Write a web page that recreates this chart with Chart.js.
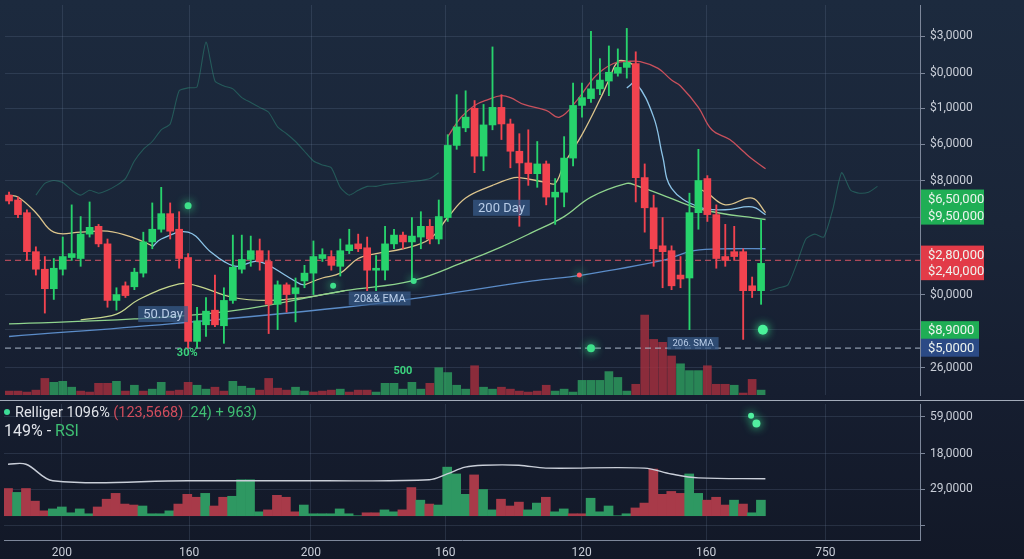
<!DOCTYPE html>
<html lang="en">
<head>
<meta charset="utf-8">
<title>Price chart</title>
<script src="https://cdn.jsdelivr.net/npm/chart.js@4.4.1/dist/chart.umd.min.js"></script>
<style>
  html, body { margin: 0; padding: 0; }
  body {
    width: 1024px; height: 559px; overflow: hidden; position: relative;
    background: linear-gradient(180deg, #1c2a3e 0%, #1a2538 40%, #161e30 70%, #121827 100%);
    font-family: Roboto, "Liberation Sans", Arial, sans-serif;
  }
  canvas { position: absolute; left: 0; }
  #priceChart { top: 0; }
  #rsiChart { top: 400px; }
  #divider { position: absolute; left: 0; top: 400px; width: 1024px; height: 1px; background: #a3abba; }
  .legend { position: absolute; left: 4px; white-space: nowrap; color: #e1e4ea; }
  #legend1 { top: 404px; font-size: 14.5px; }
  #legend2 { top: 421px; font-size: 16px; }
  .up { color: #3fbf73; }
  .down { color: #d24d5d; }
  .dot { display: inline-block; width: 6px; height: 6px; border-radius: 50%; background: #3ddc97;
         margin-right: 5px; position: relative; top: -2px; }
</style>
</head>
<body>
<canvas id="priceChart" width="1024" height="400"></canvas>
<canvas id="rsiChart" width="1024" height="159"></canvas>
<div id="divider"></div>
<div class="legend" id="legend1"><span class="dot"></span>Relliger 1096% <span class="down">(123,5668)</span>&nbsp; <span class="up">24) + 963)</span></div>
<div class="legend" id="legend2">149% - <span class="up">RSI</span></div>
<script>
// candles, one per bar index (price axis units)
const opens = [205,200,187,147,129,109,129,141,140,165, 173,155,97,112,111,125,157,170,186,170,
  141,55,72,87,71,97,129,139,148,137, 93,113,104,117,125,140,142,132,148,155,
  151,128,128,155,164,157,162,173,160,182, 256,274,294,245,277,295,278,250,238,227,
  237,203,208,243,297,304,314,322,330,336, 340,223,192,153,148,123,120,187,222,185,
  142,147,147,112,107];
const highs = [208,203,190,152,142,140,162,195,183,198, 175,160,110,116,130,167,197,213,197,188,
  145,90,100,123,110,164,164,163,160,148, 117,115,120,133,158,150,148,160,170,165,
  162,143,173,170,167,182,188,180,200,267, 308,312,302,298,357,308,283,268,272,260,
  240,222,265,320,320,373,345,358,355,376, 352,237,205,182,153,142,207,252,225,195,
  175,173,150,121,180];
const lows = [196,182,138,123,84,98,123,138,132,162, 152,90,87,100,108,121,150,167,160,130,
  48,48,60,70,53,94,125,132,128,63, 67,85,75,110,103,137,128,122,145,147,
  107,107,118,150,150,118,150,155,155,178, 252,270,228,230,272,262,233,173,215,213,
  195,175,193,235,285,300,308,307,327,325, 198,167,132,110,108,110,67,170,178,130,
  132,138,57,100,93];
const closes = [199,185,147,129,109,130,142,145,165,172, 155,97,103,102,126,157,170,186,168,140,
  55,76,86,72,97,131,139,148,137,93, 113,103,110,125,142,144,133,148,154,150,
  128,130,155,164,157,163,173,160,183,256, 275,285,245,277,295,278,250,238,227,237,
  203,208,243,297,305,314,323,331,336,341, 223,192,150,147,112,119,187,220,185,140,
  138,142,107,107,135];

// volume under the candles (G = up, R = down)
const volumes = [4,4,3,5,17,13,14,8,4,3, 12,12,14,4,10,4,6,13,4,5, 13,10,6,8,4,14,9,7,5,17,
  7,5,8,4,3,4,5,6,3,5, 5,3,12,12,6,13,6,12,28,23, 10,6,30,8,6,8,6,4,3,4,
  10,4,6,3,15,15,15,24,18,4, 11,82,57,54,40,32,25,25,30,11, 11,10,2,16,5];
const volumeSide = "RRRRRGGGRR" + "RRGRGRGGRR" + "RGGRRGGGRR" + "RRGGRRRGRR" + "RGGGGGGRGG" +
  "GGRGGRRRRR" + "RGGGGGGGGG" + "RRRRRGGGRR" + "RGRRG";

// moving averages: bar index / price
const redLineX = [49, 50.5, 52, 53.5, 55, 56, 57.5, 60, 61.5, 63.5, 65.5, 67.5, 69, 70.5, 72.5, 74, 75, 77, 78.5, 80.5, 82, 83, 84.5];
const redLineY = [265, 285, 297, 303, 307, 305, 298, 292, 285, 303, 327, 340, 342, 342, 335, 323, 317, 295, 272, 262, 250, 242, 232];
const tanLineX = [0, 1, 3, 5, 8, 11, 14, 16, 25, 33, 35, 37, 39, 41, 44, 47, 49, 51, 54, 56, 57, 60, 61, 62, 64, 66, 67, 68, 69, 70, 74, 77, 78, 80, 83, 84.5];
const tanLineY = [205, 203, 187, 167, 167, 168, 161, 153, null, 113, 120, 125, 140, 145, 150, 160, 182, 202, 215, 222, 223, 218, 217, 237, 267, 303, 323, 342, 342, 337, null, 212, 207, 195, 202, 187];
const blueLineX = [16, 17, 20, 22.5, 24, 25.5, 27.5, 29, 31, 32.5, 33, 50, 69, 70, 72, 73, 74, 77, 80, 83, 84.5];
const blueLineY = [152, 160, 167, 147, 137, 132, 137, 133, 122, 114, 113, null, 315, 320, 285, 245, 212, 193, 190, 193, 185];
const greenLineX = [0, 14, 25.5, 37.5, 45, 51, 55, 58.5, 62, 65, 69, 70, 73, 77.5, 84.5];
const greenLineY = [73, 78, 87, 107, 117, 137, 152, 167, 183, 203, 217, 215, 205, 190, 180];
const humpLineX = [8, 12, 14.5, 19, 21, 25, 29, 33, 37.5];
const humpLineY = [77, 83, 98, 114, 112, 100, 97, 100, 107];
const steelLineX = [0, 18, 37.5, 47.5, 58.5, 64, 73, 76.5, 80.5, 84.5];
const steelLineY = [60, 73, 90, 102, 117, 123, 138, 148, 150, 150];

// faint background traces
const ghostLeftX = [3,4,5,6,7,8,9,10,11,12,13,14,15,16,17,18,19,20,21,22,23,24,25,26,27,28,29,30,31,32,33,34,35,36,37,38,39,40,41,42,43,44,45,46,47,48];
const ghostLeftY = [205,217,220,218,210,205,210,207,210,215,222,240,252,260,272,278,312,315,316,362,322,317,314,305,300,295,290,275,268,260,250,240,236,233,213,205,210,214,214,216,217,218,219,220,222,228];
const ghostRightX = [85,86,87,88,89,90,91,92,93,94,95,96,97];
const ghostRightY = [107,110,113,135,160,165,162,190,228,210,207,208,214];

// reference levels
const refLevels = [138, 48];

// glow dots
const glowX = [84.2, 65, 20, 36.2, 45.2, 63.7];
const glowY = [67, 48, 194, 112, 117, 123];

// lower pane
const rsiVolumes = [28,24,28,15,5,7,9,3,7,2, 9,17,23,12,11,10,2,2,5,12, 22,19,23,10,19,20,37,37,4,6,
  21,19,4,11,2,2,2,7,2,0, 3,3,6,4,6,29,16,12,11,50, 43,22,42,27,6,17,10,14,6,13,
  19,4,7,2,2,18,4,10,0,2, 8,13,48,22,25,23,43,23,16,19, 11,16,12,3,16];
const rsiSide = "RGRRRGGGGG" + "RRRRRGGGGR" + "RRGRRGGGGR" + "RRRGGGGGGG" + "RRGGRRGRGG" +
  "GGRGGRRRGG" + "RGGRRGGGGG" + "RRRRRRGGRR" + "RGRGG";
const rsiLineX = [0, 2, 5, 20, 35, 47, 49, 51, 53, 57, 60, 71, 74, 77, 84.5];
const rsiLineY = [53, 53, 36, 36, 36, 37, 43, 50, 52, 52, 49, 49, 43, 39, 38];
const rsiGlowX = [82.9, 83.5];
const rsiGlowY = [103, 95];

// axes
const xGridAt = [6, 20.2, 33.8, 48.8, 64, 77.9, 91.2];
const xTickLabels = ["200", "160", "200", "160", "120", "160", "750"];
const priceTicks = [368, 330, 294, 257, 220, 182, 144, 103, 67, 28];
const priceTickLabels = ["$3,0000", "$0,0000", "$1,0000", "$6,0000", "$8,0000", "", "", "$0,0000", "", "26,0000"];
const rsiTicks = [102, 64, 27, -10];
const rsiTickLabels = ["59,0000", "18,0000", "29,0000", ""];

// price badges on the right axis
const badgeValues = [201.5, 184, 144, 127, 66.5, 48.5];
const badgeLabels = ["$6,50,000", "$9,50,000", "$2,80,000", "$2,40,000", "$8,9000", "$5,0000"];
const badgeKinds = ["up", "up", "down", "down", "up", "base"];

// chart notes
const noteText = ["50.Day", "200 Day", "20&& EMA", "206. SMA"];
const noteX = [17.2, 55, 41.4, 76.4];
const noteY = [83, 192, 99, 53];
const markText = ["30%", "500"];
const markX = [19.9, 44];
const markY = [43, 24];

const X_MIN = -0.45, X_MAX = 101.75;
const GREEN = "#27d36c", RED = "#f2434f";
const GRID = "rgba(120,140,170,0.2)";
const AXIS = "#7d879a";
const GHOST = "rgba(52,170,140,0.38)";
const FONT = "Roboto, 'Liberation Sans', Arial, sans-serif";

Chart.defaults.font.family = FONT;

const pts = (xs, ys) => xs.map((x, i) => ({ x: x, y: ys[i] }));
const candleColor = ctx => closes[ctx.dataIndex] >= opens[ctx.dataIndex] ? GREEN : RED;

function maLine(xs, ys, color, width) {
  return {
    type: "line", data: pts(xs, ys), borderColor: color, borderWidth: width || 1.3,
    pointRadius: 0, tension: 0.4, spanGaps: false, order: 3
  };
}

const glowPlugin = {
  id: "glow",
  beforeDatasetDraw(chart, args) {
    const ds = chart.data.datasets[args.index];
    if (!ds.glow) return;
    chart.ctx.save();
    chart.ctx.shadowColor = ds.glow;
    chart.ctx.shadowBlur = 10;
  },
  afterDatasetDraw(chart, args) {
    if (chart.data.datasets[args.index].glow) chart.ctx.restore();
  }
};

const notesPlugin = {
  id: "notes",
  afterDatasetsDraw(chart) {
    const { ctx, scales: { x, y } } = chart;
    ctx.save();
    ctx.textAlign = "center";
    ctx.textBaseline = "middle";
    const sizes = [13, 13, 11, 9.5];
    noteText.forEach((t, k) => {
      const cx = x.getPixelForValue(noteX[k]);
      const cy = y.getPixelForValue(noteY[k]);
      ctx.font = sizes[k] + "px " + FONT;
      const w = ctx.measureText(t).width + 10;
      const h = sizes[k] + 3;
      ctx.fillStyle = "rgba(55,92,138,0.72)";
      ctx.fillRect(cx - w / 2, cy - h / 2, w, h);
      ctx.fillStyle = "#b9cde8";
      ctx.fillText(t, cx, cy + 0.5);
    });
    ctx.font = "bold 11px " + FONT;
    ctx.fillStyle = "#3bd27d";
    markText.forEach((t, k) => {
      ctx.fillText(t, x.getPixelForValue(markX[k]), y.getPixelForValue(markY[k]));
    });
    ctx.restore();
  },
  afterDraw(chart) {
    const { ctx, chartArea, scales: { y } } = chart;
    const fills = { up: "#1fae55", down: "#e23b48", base: "#2b4a85" };
    ctx.save();
    ctx.font = "13px " + FONT;
    ctx.textBaseline = "middle";
    ctx.textAlign = "left";
    badgeLabels.forEach((t, k) => {
      const cy = y.getPixelForValue(badgeValues[k]);
      const w = k < 4 ? 63 : 58;
      ctx.fillStyle = fills[badgeKinds[k]];
      ctx.fillRect(chartArea.right + 1, cy - 9, w, 18);
      ctx.fillStyle = "#eef4ef";
      ctx.fillText(t, chartArea.right + 8, cy + 1);
    });
    ctx.restore();
  }
};

new Chart(document.getElementById("priceChart"), {
  type: "bar",
  data: {
    datasets: [
      {
        type: "line", glow: "#3dff9a", showLine: false, data: pts(glowX, glowY),
        pointRadius: [5, 4, 3.5, 3, 3, 2.5],
        pointBackgroundColor: ["#4af29a", "#3ee08a", "#3ee08a", "#3ee08a", "#3ee08a", "#ff5a66"],
        pointBorderWidth: 0, order: 0
      },
      {
        type: "bar", data: opens.map((o, i) => ({ x: i, y: [o, closes[i]] })),
        backgroundColor: candleColor, barThickness: 7, grouped: false, order: 1
      },
      {
        type: "bar", data: lows.map((l, i) => ({ x: i, y: [l, highs[i]] })),
        backgroundColor: candleColor, barThickness: 1.2, grouped: false, order: 2
      },
      maLine(redLineX, redLineY, "#c9505c"),
      maLine(tanLineX, tanLineY, "#dcc48c"),
      maLine(blueLineX, blueLineY, "#8cc4e8"),
      maLine(greenLineX, greenLineY, "#8fd48e"),
      maLine(humpLineX, humpLineY, "#c5d68e", 1.2),
      maLine(steelLineX, steelLineY, "#5b8cc8"),
      Object.assign(maLine(ghostLeftX, ghostLeftY, GHOST, 1.1), { order: 9, tension: 0.2 }),
      Object.assign(maLine(ghostRightX, ghostRightY, GHOST, 1.1), { order: 9, tension: 0.2 }),
      ...refLevels.map((lvl, k) => ({
        type: "line", data: [{ x: X_MIN, y: lvl }, { x: X_MAX, y: lvl }],
        borderColor: k === 0 ? "rgba(200,80,95,0.85)" : "rgba(170,182,200,0.8)",
        borderWidth: 1.2, borderDash: [6, 4], pointRadius: 0, order: 8
      })),
      {
        type: "bar", yAxisID: "yVol", data: volumes.map((v, i) => ({ x: i, y: v })),
        backgroundColor: ctx => volumeSide[ctx.dataIndex] === "G" ? "rgba(46,160,96,0.8)" : "rgba(165,48,62,0.82)",
        barThickness: 8, grouped: false, order: 10
      }
    ]
  },
  options: {
    responsive: false,
    animation: false,
    events: [],
    layout: { padding: 0 },
    plugins: { legend: { display: false }, tooltip: { enabled: false } },
    scales: {
      x: {
        type: "linear", min: X_MIN, max: X_MAX, offset: false,
        afterBuildTicks: s => { s.ticks = xGridAt.map(v => ({ value: v })); },
        afterFit: s => { s.height = 0; s.paddingLeft = 0; s.paddingRight = 0; },
        ticks: { display: false },
        grid: { color: GRID, drawTicks: false, offset: false },
        border: { display: false }
      },
      y: {
        position: "right", min: 0, max: 400,
        afterBuildTicks: s => { s.ticks = priceTicks.map(v => ({ value: v })); },
        afterFit: s => { s.width = 104; s.paddingTop = 0; s.paddingBottom = 0; },
        ticks: { color: "#c9ced8", font: { size: 12 }, padding: 5, callback: (v, i) => priceTickLabels[i] },
        grid: { color: GRID, tickLength: 5, tickColor: AXIS },
        border: { display: true, color: AXIS }
      },
      yVol: { display: false, min: 0, max: 400 }
    }
  },
  plugins: [glowPlugin, notesPlugin]
});

new Chart(document.getElementById("rsiChart"), {
  type: "bar",
  data: {
    datasets: [
      {
        type: "line", glow: "#3dff9a", showLine: false, data: pts(rsiGlowX, rsiGlowY),
        pointRadius: [3, 4], pointBackgroundColor: "#52f0a0", pointBorderWidth: 0, order: 0
      },
      {
        type: "line", data: pts(rsiLineX, rsiLineY), borderColor: "#c9ced8", borderWidth: 1.4,
        pointRadius: 0, tension: 0.35, order: 1
      },
      {
        type: "bar", data: rsiVolumes.map((v, i) => ({ x: i, y: v })),
        backgroundColor: ctx => rsiSide[ctx.dataIndex] === "G" ? "#2e9862" : "#a83a49",
        barThickness: 9, grouped: false, order: 2
      }
    ]
  },
  options: {
    responsive: false,
    animation: false,
    events: [],
    layout: { padding: 0 },
    plugins: { legend: { display: false }, tooltip: { enabled: false } },
    scales: {
      x: {
        type: "linear", min: X_MIN, max: X_MAX, offset: false,
        afterBuildTicks: s => { s.ticks = xGridAt.map(v => ({ value: v })); },
        afterFit: s => { s.height = 19; s.paddingLeft = 0; s.paddingRight = 0; },
        ticks: { color: "#c9ced8", font: { size: 12 }, padding: 6, autoSkip: false, maxRotation: 0,
                 callback: (v, i) => xTickLabels[i] },
        grid: { color: GRID, drawTicks: false, offset: false },
        border: { display: true, color: AXIS }
      },
      y: {
        position: "right", min: -25, max: 115,
        afterBuildTicks: s => { s.ticks = rsiTicks.map(v => ({ value: v })); },
        afterFit: s => { s.width = 104; s.paddingTop = 0; s.paddingBottom = 0; },
        ticks: { color: "#c9ced8", font: { size: 12 }, padding: 5, callback: (v, i) => rsiTickLabels[i] },
        grid: { color: GRID, tickLength: 5, tickColor: AXIS },
        border: { display: true, color: AXIS }
      }
    }
  },
  plugins: [glowPlugin]
});
</script>
</body>
</html>
